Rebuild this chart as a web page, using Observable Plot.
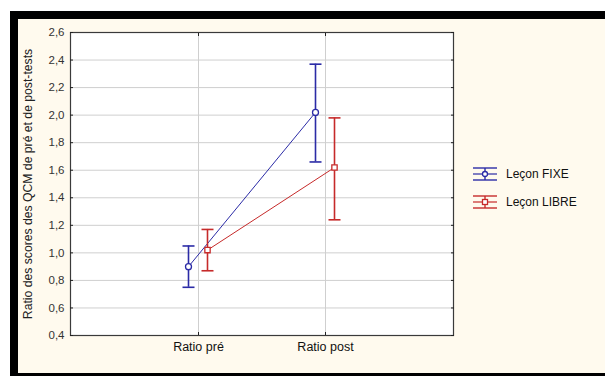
<!DOCTYPE html>
<html><head><meta charset="utf-8">
<script src="https://cdn.jsdelivr.net/npm/d3@7"></script>
<script src="https://cdn.jsdelivr.net/npm/@observablehq/plot@0.6"></script>
<style>
body{margin:0;background:#fff;font-family:"Liberation Sans",Arial,sans-serif;}
#frame{position:absolute;left:10px;top:11px;width:595px;height:365px;background:#000;}
#panel{position:absolute;left:8px;top:8px;width:587px;height:354px;background:#fffaee;}
#legend{position:absolute;left:454px;top:141px;font-size:12px;color:#111;}
.item{display:flex;align-items:center;height:28px;}
.item svg{margin-right:8px;}
</style></head>
<body>
<div id="frame"><div id="panel"><div id="chart"></div><div id="legend"></div></div></div>
<script>
const categories = ["Ratio pré", "Ratio post"];
const groups = ["Leçon FIXE", "Leçon LIBRE"];
const colors = ["#2b2ba6", "#c62a2a"];
const fixeMean = [0.90, 2.02];
const fixeLow = [0.75, 1.66];
const fixeHigh = [1.05, 2.37];
const libreMean = [1.02, 1.62];
const libreLow = [0.87, 1.24];
const libreHigh = [1.17, 1.98];
const yTicks = [0.4, 0.6, 0.8, 1.0, 1.2, 1.4, 1.6, 1.8, 2.0, 2.2, 2.4, 2.6];
const yLabel = "Ratio des scores des QCM de pré et de post-tests";

const series = [
  {name: groups[0], color: colors[0], mean: fixeMean, low: fixeLow, high: fixeHigh, dx: -10, symbol: "circle"},
  {name: groups[1], color: colors[1], mean: libreMean, low: libreLow, high: libreHigh, dx: 9, symbol: "square"}
];
const cap = {draw(ctx, size) { const w = Math.sqrt(size / Math.PI); ctx.moveTo(-w, 0); ctx.lineTo(w, 0); }};
const fmt = d => d.toFixed(1).replace(".", ",");

const marks = [
  Plot.frame({fill: "white"}),
  Plot.gridY(yTicks, {stroke: "#cfcfcf", strokeOpacity: 1}),
  Plot.gridX(categories, {stroke: "#cfcfcf", strokeOpacity: 1}),
];
for (const s of series) {
  const rows = categories.map((c, i) => ({cat: c, mean: s.mean[i], low: s.low[i], high: s.high[i]}));
  marks.push(
    Plot.line(rows, {x: "cat", y: "mean", dx: s.dx, stroke: s.color, strokeWidth: 1}),
    Plot.ruleX(rows, {x: "cat", y1: "low", y2: "high", dx: s.dx, stroke: s.color, strokeWidth: 1.6}),
    Plot.dot(rows, {x: "cat", y: "low", dx: s.dx, symbol: cap, r: 6, stroke: s.color, strokeWidth: 1.6, fill: "none"}),
    Plot.dot(rows, {x: "cat", y: "high", dx: s.dx, symbol: cap, r: 6, stroke: s.color, strokeWidth: 1.6, fill: "none"}),
    Plot.dot(rows, {x: "cat", y: "mean", dx: s.dx, symbol: s.symbol, r: 3, stroke: s.color, strokeWidth: 1.3, fill: "white"})
  );
}
marks.push(
  Plot.frame({stroke: "#3a3a3a", strokeWidth: 1.2}),
  Plot.axisY(yTicks, {tickSize: 0, tickPadding: 6, tickFormat: fmt, fontSize: 11.5, color: "#333", label: null}),
  Plot.text([yLabel], {text: d => d, frameAnchor: "left", textAnchor: "middle", rotate: -90, dx: -42, fontSize: 12.2, fill: "#222"}),
  Plot.axisY(yTicks, {tickSize: -3, tickFormat: () => "", label: null, stroke: "#222"}),
  Plot.axisY(yTicks, {anchor: "right", tickSize: -3, tickFormat: () => "", label: null, stroke: "#222"}),
  Plot.axisX(categories, {tickSize: 0, tickPadding: 7, fontSize: 12.5, color: "#111", label: null}),
  Plot.axisX(categories, {tickSize: -3, tickFormat: () => "", label: null, stroke: "#222"}),
  Plot.axisX(categories, {anchor: "top", tickSize: -3, tickFormat: () => "", label: null, stroke: "#222"})
);

const chart = Plot.plot({
  width: 587, height: 354,
  marginLeft: 52, marginTop: 13, marginRight: 152, marginBottom: 38,
  style: {background: "transparent", fontFamily: "Liberation Sans, Arial, sans-serif", fontSize: "11px", color: "#222"},
  x: {type: "point", domain: categories, padding: 1},
  y: {domain: [0.4, 2.6]},
  marks
});
document.getElementById("chart").appendChild(chart);

const legend = document.getElementById("legend");
series.forEach(s => {
  const item = document.createElement("div");
  item.className = "item";
  const sym = s.symbol === "circle"
    ? `<circle cx="13" cy="7" r="2.5" fill="white" stroke="${s.color}" stroke-width="1.3"/>`
    : `<rect x="10.5" y="4.5" width="5" height="5" fill="white" stroke="${s.color}" stroke-width="1.3"/>`;
  item.innerHTML = `<svg width="26" height="15" viewBox="0 0 26 15">
    <line x1="1" x2="25" y1="7" y2="7" stroke="${s.color}" stroke-width="1.2"/>
    <line x1="13" x2="13" y1="1" y2="13" stroke="${s.color}" stroke-width="1.4"/>
    <line x1="1" x2="25" y1="1" y2="1" stroke="${s.color}" stroke-width="1.4"/>
    <line x1="1" x2="25" y1="13" y2="13" stroke="${s.color}" stroke-width="1.4"/>${sym}</svg><span>${s.name}</span>`;
  legend.appendChild(item);
});
</script>
</body></html>
